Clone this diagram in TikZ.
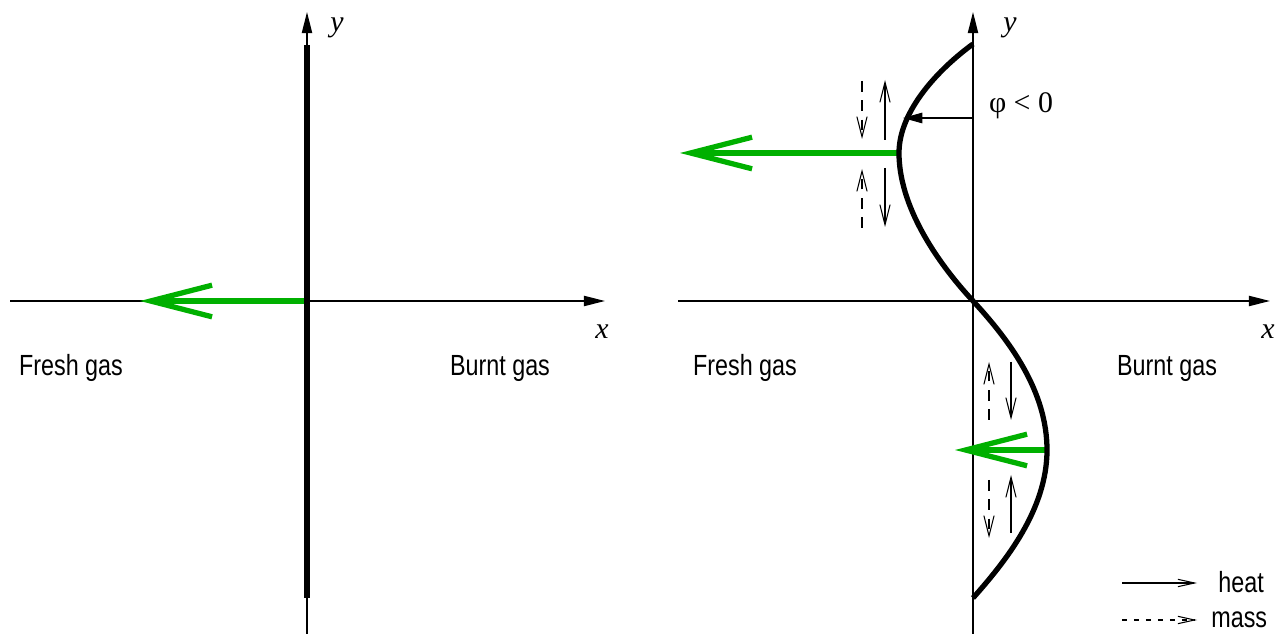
\documentclass[tikz,border=0pt]{standalone}
\usepackage{fontspec}
\setmainfont{Liberation Sans}[FakeStretch=0.8]
\newfontfamily\tms{Liberation Serif}
\usetikzlibrary{arrows.meta}
\definecolor{flamegreen}{RGB}{0,176,0}
\tikzset{
  axis/.style={line width=0.8pt,-{Triangle[length=12pt,width=5.8pt]}},
  front/.style={line width=3pt},
  greenarrow/.style={draw=flamegreen,line width=3pt,-{Straight Barb[length=35pt,width=18pt]}},
  heatarrow/.style={line width=0.6pt,-{Straight Barb[length=11.5pt,width=5.8pt]}},
  massarrow/.style={line width=0.6pt,dash pattern=on 6pt off 5pt,-{Straight Barb[length=11.5pt,width=5.8pt]}},
  legheat/.style={line width=0.6pt,-{Straight Barb[length=9.5pt,width=4.2pt]}},
  legmass/.style={line width=0.6pt,dash pattern=on 3pt off 3.8pt,-{Straight Barb[length=9.5pt,width=4.2pt]}},
  lbl/.style={inner sep=0pt,font=\fontsize{16.6}{19}\selectfont},
  axlbl/.style={inner sep=0pt,font=\tms\itshape\fontsize{17}{19}\selectfont},
  philbl/.style={inner sep=0pt,font=\tms\fontsize{17}{19}\selectfont},
}
\begin{document}
\begin{tikzpicture}[x=0.02cm,y=-0.02cm]
\useasboundingbox (0,0) rectangle (1278,634);
% ---------- left panel ----------
\coordinate (LyB) at (307,634);
\coordinate (LyT) at (307,12);
\coordinate (LxL) at (10,301);
\coordinate (LxR) at (605,301);
\coordinate (LfT) at (307,45);
\coordinate (LfB) at (307,598);
\coordinate (LO) at (307,301);
\coordinate (LgT) at (140,301);
\draw[axis] (LyB) -- (LyT);
\draw[axis] (LxL) -- (LxR);
\draw[greenarrow] (LO) -- (LgT);
\draw[front] (LfT) -- (LfB);
\node[axlbl] (Ly) at (337,28) {y};
\node[axlbl] (Lx) at (602,332) {x};
\node[lbl] (Lfresh) at (71,368) {Fresh gas};
\node[lbl] (Lburnt) at (500,368) {Burnt gas};
% ---------- right panel ----------
\coordinate (RyB) at (973,634);
\coordinate (RyT) at (973,12);
\coordinate (RxL) at (678,301);
\coordinate (RxR) at (1270,301);
\draw[axis] (RyB) -- (RyT);
\draw[axis] (RxL) -- (RxR);
\coordinate (C0) at (973,44);
\coordinate (C1) at (899,153);
\coordinate (C2) at (973,301);
\coordinate (C3) at (1047,450);
\coordinate (C4) at (973,598);
\coordinate (G1) at (680,153);
\coordinate (G2) at (955,450);
\draw[greenarrow] (C1) -- (G1);
\draw[greenarrow] (C3) -- (G2);
\draw[front] (C0) .. controls (940,68) and (899,110) .. (C1)
  .. controls (899,205) and (935,260) .. (C2)
  .. controls (1011,342) and (1047,392) .. (C3)
  .. controls (1047,510) and (1005,562) .. (C4);
% phi arrow
\coordinate (Pa) at (973,118);
\coordinate (Pb) at (903,118);
\draw[line width=0.6pt,-{Triangle[length=11pt,width=6pt]}] (Pa) -- (Pb);
\node[philbl] (phi) at (1021,106) {φ < 0};
% small heat / mass arrows (upper)
\coordinate (m1a) at (862,81);  \coordinate (m1b) at (862,139);
\coordinate (h1a) at (885,140); \coordinate (h1b) at (885,80);
\coordinate (m2a) at (862,228); \coordinate (m2b) at (862,169);
\coordinate (h2a) at (885,168); \coordinate (h2b) at (885,227);
\draw[massarrow] (m1a) -- (m1b);
\draw[heatarrow] (h1a) -- (h1b);
\draw[massarrow] (m2a) -- (m2b);
\draw[heatarrow] (h2a) -- (h2b);
% small heat / mass arrows (lower)
\coordinate (m3a) at (989,420); \coordinate (m3b) at (989,362);
\coordinate (h3a) at (1011,362); \coordinate (h3b) at (1011,420);
\coordinate (m4a) at (989,480); \coordinate (m4b) at (989,538);
\coordinate (h4a) at (1011,533); \coordinate (h4b) at (1011,475);
\draw[massarrow] (m3a) -- (m3b);
\draw[heatarrow] (h3a) -- (h3b);
\draw[massarrow] (m4a) -- (m4b);
\draw[heatarrow] (h4a) -- (h4b);
\node[axlbl] (Ry) at (1010,28) {y};
\node[axlbl] (Rx) at (1268,332) {x};
\node[lbl] (Rfresh) at (745,368) {Fresh gas};
\node[lbl] (Rburnt) at (1167,368) {Burnt gas};
% legend
\coordinate (k1a) at (1122,583); \coordinate (k1b) at (1197,583);
\coordinate (k2a) at (1122,620); \coordinate (k2b) at (1197,620);
\draw[legheat] (k1a) -- (k1b);
\draw[legmass] (k2a) -- (k2b);
\node[lbl,anchor=west] (heat) at (1218,582) {heat};
\node[lbl,anchor=west] (mass) at (1211,620) {mass};
\end{tikzpicture}
\end{document}
